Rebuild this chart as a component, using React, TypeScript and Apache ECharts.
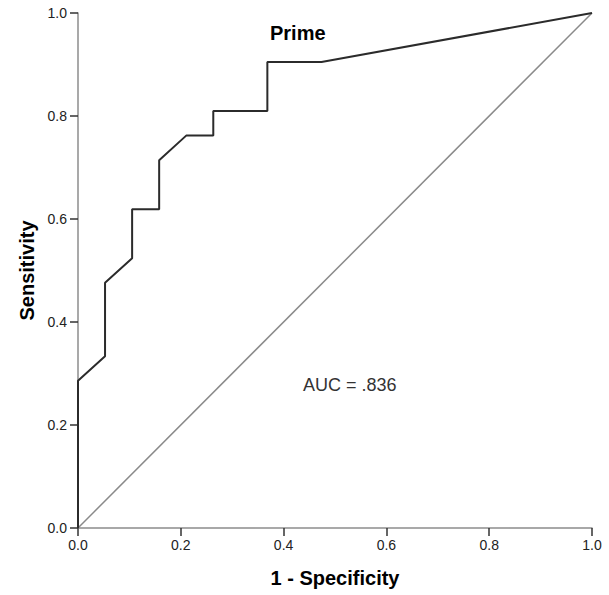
import React, { useEffect, useRef } from "react";
import * as echarts from "echarts";

const fpr = [0, 0, 0.0526, 0.0526, 0.1053, 0.1053, 0.1579, 0.1579, 0.2105, 0.2632, 0.2632, 0.3684, 0.3684, 0.4737, 1];
const tpr = [0, 0.2857, 0.3333, 0.4762, 0.5238, 0.619, 0.619, 0.7143, 0.7619, 0.7619, 0.8095, 0.8095, 0.9048, 0.9048, 1];
const refX = [0, 1];
const refY = [0, 1];
const curveLabel = "Prime";
const aucLabel = "AUC = .836";

export default function App() {
  const ref = useRef<HTMLDivElement>(null);
  useEffect(() => {
    const chart = echarts.init(ref.current!, null, { renderer: "svg" });
    const font = "Arial, 'Liberation Sans', sans-serif";
    const axisCommon = {
      type: "value",
      min: 0,
      max: 1,
      interval: 0.2,
      splitLine: { show: false },
      axisLine: { show: true, lineStyle: { color: "#8c8c8c", width: 1.5 } },
      axisTick: { show: true, length: 8, lineStyle: { color: "#333", width: 1.5 } },
      axisLabel: {
        color: "#222",
        fontSize: 14,
        fontFamily: font,
        formatter: (v: number) => v.toFixed(1),
      },
      nameLocation: "middle",
      nameTextStyle: { color: "#000", fontSize: 20, fontWeight: "bold", fontFamily: font },
    };
    chart.setOption({
      animation: false,
      backgroundColor: "#fff",
      grid: { left: 78, top: 13, width: 514, height: 515, containLabel: false },
      xAxis: {
        ...axisCommon,
        name: "1 - Specificity",
        nameGap: 40,
        axisLabel: { ...axisCommon.axisLabel, margin: 10 },
      },
      yAxis: {
        ...axisCommon,
        name: "Sensitivity",
        nameGap: 40,
        axisLabel: { ...axisCommon.axisLabel, margin: 11 },
      },
      series: [
        {
          type: "line",
          data: refX.map((x, i) => [x, refY[i]]),
          showSymbol: false,
          lineStyle: { color: "#8a8a8a", width: 1.5 },
          z: 2,
        },
        {
          type: "line",
          data: fpr.map((x, i) => [x, tpr[i]]),
          showSymbol: false,
          lineStyle: { color: "#2b2b2b", width: 2 },
          z: 3,
        },
      ],
      graphic: [
        {
          type: "text",
          left: 270,
          top: 23,
          style: { text: curveLabel, fontSize: 20, fontWeight: "bold", fontFamily: font, fill: "#000" },
        },
        {
          type: "text",
          left: 303,
          top: 376,
          style: { text: aucLabel, fontSize: 18, fontFamily: font, fill: "#333" },
        },
      ],
    });
    return () => chart.dispose();
  }, []);
  return <div ref={ref} style={{ width: 609, height: 595, position: "absolute", left: 0, top: 0 }} />;
}
